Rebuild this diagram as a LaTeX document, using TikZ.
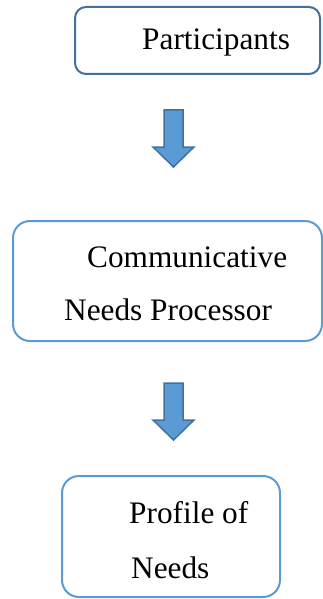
\documentclass[tikz,border=0pt]{standalone}
\usepackage{fontspec}
\setmainfont{Liberation Serif}
\definecolor{edgedark}{HTML}{41719C}
\definecolor{edgelight}{HTML}{5B9BD5}
\definecolor{arrowfill}{HTML}{5B9BD5}
\begin{document}
\begin{tikzpicture}[x=1pt,y=-1pt,
  box/.style={draw=edgelight,line width=2pt,fill=white,inner sep=0pt,rounded corners=17pt},
  label/.style={inner sep=0pt,anchor=base west,font=\fontsize{31.3}{53}\selectfont},
  blockarrow/.style={draw=edgedark,line width=1.5pt,fill=arrowfill,line join=miter}]
\useasboundingbox (0,0) rectangle (323,599);

% boxes
\node[box,draw=edgedark,rounded corners=11pt,minimum width=245pt,minimum height=67pt] (participants) at (197.5,40.5) {};
\node[box,minimum width=309pt,minimum height=120pt] (processor) at (167.5,281) {};
\node[box,minimum width=218pt,minimum height=121pt] (profile) at (171,536.5) {};

% texts
\node[label] (t1) at (142,50) {Participants};
\node[label] (t2a) at (87,267) {Communicative};
\node[label] (t2b) at (64,320) {Needs Processor};
\node[label] (t3a) at (129,523) {Profile of};
\node[label] (t3b) at (131,578) {Needs};

% block arrows
\draw[blockarrow] (164,110) -- (183,110) -- (183,147) -- (194,147) -- (173.5,167) -- (153,147) -- (164,147) -- cycle;
\draw[blockarrow] (164,383) -- (183,383) -- (183,420) -- (194,420) -- (173.5,440) -- (153,420) -- (164,420) -- cycle;
\end{tikzpicture}
\end{document}
